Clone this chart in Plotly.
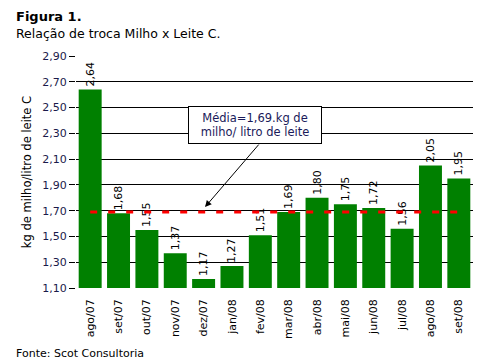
import plotly.graph_objects as go

categories = ["ago/07", "set/07", "out/07", "nov/07", "dez/07", "jan/08", "fev/08",
              "mar/08", "abr/08", "mai/08", "jun/08", "jul/08", "ago/08", "set/08"]
values = [2.64, 1.68, 1.55, 1.37, 1.17, 1.27, 1.51, 1.69, 1.80, 1.75, 1.72, 1.56, 2.05, 1.95]
mean_value = 1.69
y_ticks = [1.10, 1.30, 1.50, 1.70, 1.90, 2.10, 2.30, 2.50, 2.70, 2.90]

FONT = "DejaVu Sans"

fig = go.Figure()
fig.add_trace(go.Bar(
    x=categories, y=values,
    marker=dict(color="#008000", line=dict(width=0)),
    text=[f"{v:.2f}".replace(".", ",") for v in values],
    textposition="outside", textangle=-90, constraintext="none",
    textfont=dict(family=FONT, size=11, color="#000000"),
    cliponaxis=False,
))
fig.add_trace(go.Scatter(
    x=categories, y=[mean_value] * len(categories), mode="lines",
    line=dict(color="#ff0000", width=3, dash="7px,11px"),
    hoverinfo="skip",
))

# arrow
fig.add_annotation(
    x=4.05, y=1.728, xref="x", yref="y",
    ax=55, ay=-64, text="",
    showarrow=True, arrowhead=2, arrowsize=1.3, arrowwidth=1, arrowcolor="#000000",
)
# text box
fig.add_annotation(
    x=(255 - 76) / 397, y=(288 - 125) / 232, xref="paper", yref="paper",
    xanchor="center", yanchor="middle", showarrow=False,
    text="Média=1,69.kg de<br>milho/ litro de leite",
    width=126, height=30,
    font=dict(family=FONT, size=11.5, color="#1a1a5a"),
    bgcolor="#ffffff", bordercolor="#000000", borderwidth=1, borderpad=3,
)

fig.update_layout(
    width=484, height=356,
    margin=dict(l=68, r=19, t=48, b=76, autoexpand=False),
    paper_bgcolor="#ffffff", plot_bgcolor="#ffffff",
    separators=",.",
    showlegend=False,
    bargap=0.19,
    font=dict(family=FONT, size=11, color="#000000"),
    xaxis=dict(
        type="category", tickangle=-90, showgrid=False, ticks="",
        ticklabelstandoff=8,
        tickfont=dict(family=FONT, size=11, color="#000000"),
        showline=False,
    ),
    yaxis=dict(
        range=[1.10, 2.90], tickvals=y_ticks, tickformat=".2f",
        showgrid=True, gridcolor="#000000", gridwidth=1,
        ticks="outside", ticklen=6, tickcolor="#000000",
        showline=False, zeroline=False,
        tickfont=dict(family=FONT, size=11, color="#1a1a4a"),
        title=dict(text="kg de milho/litro de leite C", font=dict(family=FONT, size=11.5, color="#000000"), standoff=8),
    ),
)

fig.add_annotation(xref="paper", yref="paper", x=-62/397, y=1 + (56 - 16.5) / 232,
                   xanchor="left", yanchor="middle", showarrow=False,
                   text="<b>Figura 1.</b>", font=dict(family=FONT, size=13, color="#000000"))
fig.add_annotation(xref="paper", yref="paper", x=-62/397, y=1 + (56 - 33) / 232,
                   xanchor="left", yanchor="middle", showarrow=False,
                   text="Relação de troca Milho x Leite C.", font=dict(family=FONT, size=12.5, color="#000000"))
fig.add_annotation(xref="paper", yref="paper", x=-62/397, y=-(353 - 288) / 232,
                   xanchor="left", yanchor="middle", showarrow=False,
                   text="Fonte: Scot Consultoria", font=dict(family=FONT, size=11, color="#000000"))

fig.write_html("out.html")
